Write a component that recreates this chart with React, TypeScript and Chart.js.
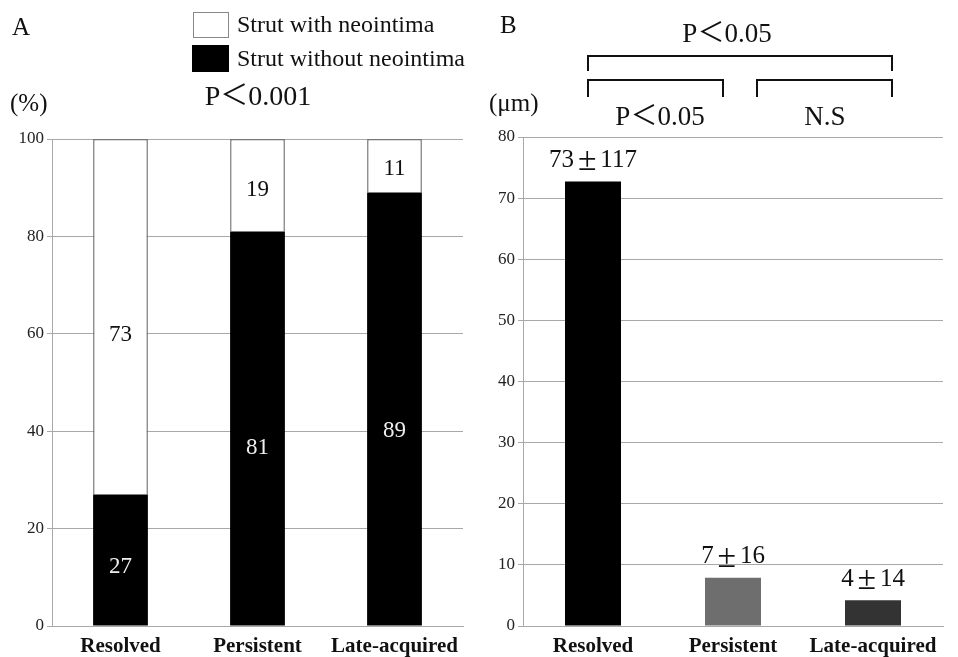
import React, { useEffect, useRef } from "react";
import { Chart, registerables } from "chart.js";
Chart.register(...registerables);

const categories = ["Resolved", "Persistent", "Late-acquired"];
const withoutNeointima = [27, 81, 89];
const withNeointima = [73, 19, 11];
const legendLabels = ["Strut with neointima", "Strut without neointima"];
const thicknessMean = [72.7, 7.9, 4.2];
const thicknessMeanLabels = ["73", "7", "4"];
const thicknessSdLabels = ["117", "16", "14"];
const thicknessColors = ["#000000", "#6e6e6e", "#333333"];
const pPanelA = "P＜0.001";
const pOverall = "P＜0.05";
const pResolvedPersistent = "P＜0.05";
const pPersistentLate = "N.S";

const SERIF = '"Liberation Serif", "Noto Sans CJK JP", serif';
const GRID = "#a8a8a8";
const TEXT = "#111111";

function yScale(max: number, step: number, width: number) {
  return {
    min: 0,
    max,
    ticks: { stepSize: step, color: "#222", font: { family: SERIF, size: 17 }, padding: 3 },
    grid: { color: GRID, lineWidth: 1, tickLength: 5, drawTicks: true },
    border: { display: true, color: GRID },
    afterFit: (s: any) => {
      s.width = width;
    },
  };
}

function xScale(stacked: boolean) {
  return {
    stacked,
    grid: { display: false, drawTicks: false },
    border: { display: true, color: GRID },
    ticks: { color: TEXT, font: { family: SERIF, size: 21, weight: "bold" }, padding: 8 },
    afterFit: (s: any) => {
      s.height = 31;
    },
  };
}

function drawPlusMinus(ctx: any, a: string, b: string, cx: number, cy: number, size: number) {
  ctx.font = `${size}px ${SERIF}`;
  const wa = ctx.measureText(a).width;
  const wb = ctx.measureText(b).width;
  const slot = size * 1.05;
  const total = wa + slot + wb;
  const left = cx - total / 2;
  ctx.textAlign = "left";
  ctx.fillText(a, left, cy);
  ctx.fillText(b, left + wa + slot, cy);
  ctx.font = `${size * 1.35}px ${SERIF}`;
  ctx.textAlign = "center";
  ctx.fillText("±", left + wa + slot / 2, cy + 1);
}

const annoA = {
  id: "annoA",
  afterDraw(chart: any) {
    const ctx = chart.ctx;
    ctx.save();
    ctx.textBaseline = "middle";
    ctx.fillStyle = TEXT;
    ctx.font = `25px ${SERIF}`;
    ctx.textAlign = "left";
    ctx.fillText("A", 12, 28);
    // legend
    ctx.fillStyle = "#fff";
    ctx.strokeStyle = "#888";
    ctx.lineWidth = 1;
    ctx.fillRect(193, 12, 35, 25);
    ctx.strokeRect(193.5, 12.5, 35, 25);
    ctx.fillStyle = "#000";
    ctx.fillRect(192, 45, 37, 27);
    ctx.fillStyle = TEXT;
    ctx.font = `24px ${SERIF}`;
    ctx.fillText(legendLabels[0], 237, 26);
    ctx.fillText(legendLabels[1], 237, 60);
    ctx.font = `25px ${SERIF}`;
    ctx.fillText("(%)", 10, 104);
    ctx.font = `28px ${SERIF}`;
    ctx.textAlign = "center";
    ctx.fillText(pPanelA, 258, 98);
    // data labels
    ctx.font = `23px ${SERIF}`;
    chart.data.datasets.forEach((ds: any, di: number) => {
      const meta = chart.getDatasetMeta(di);
      meta.data.forEach((bar: any, i: number) => {
        const p = bar.getProps(["x", "y", "base"], true);
        const ly = p.base + (p.y - p.base) * 0.45;
        ctx.fillStyle = di === 0 ? "#eeeeee" : TEXT;
        ctx.fillText(String(ds.data[i]), p.x, ly);
      });
    });
    ctx.restore();
  },
};

const annoB = {
  id: "annoB",
  afterDraw(chart: any) {
    const ctx = chart.ctx;
    ctx.save();
    ctx.textBaseline = "middle";
    ctx.fillStyle = TEXT;
    ctx.font = `25px ${SERIF}`;
    ctx.textAlign = "left";
    ctx.fillText("B", 20, 26);
    ctx.fillText("(μm)", 9, 104);
    ctx.textAlign = "center";
    ctx.font = `27px ${SERIF}`;
    ctx.fillText(pOverall, 247, 35);
    ctx.fillText(pResolvedPersistent, 180, 118);
    ctx.fillText(pPersistentLate, 345, 118);
    // brackets
    ctx.strokeStyle = "#111";
    ctx.lineWidth = 2;
    const bracket = (x1: number, x2: number, top: number, bottom: number) => {
      ctx.beginPath();
      ctx.moveTo(x1, bottom);
      ctx.lineTo(x1, top);
      ctx.lineTo(x2, top);
      ctx.lineTo(x2, bottom);
      ctx.stroke();
    };
    bracket(108, 412, 56, 71);
    bracket(108, 243, 80, 97);
    bracket(277, 412, 80, 97);
    // value labels
    const meta = chart.getDatasetMeta(0);
    meta.data.forEach((bar: any, i: number) => {
      const p = bar.getProps(["x", "y"], true);
      drawPlusMinus(ctx, thicknessMeanLabels[i], thicknessSdLabels[i], p.x, p.y - 21, 25);
    });
    ctx.restore();
  },
};

export default function App() {
  const refA = useRef<HTMLCanvasElement>(null);
  const refB = useRef<HTMLCanvasElement>(null);

  useEffect(() => {
    const a = new Chart(refA.current!, {
      type: "bar",
      data: {
        labels: categories,
        datasets: [
          {
            label: legendLabels[1],
            data: withoutNeointima,
            backgroundColor: "#000",
            borderWidth: 0,
            categoryPercentage: 1,
            barPercentage: 0.4,
          },
          {
            label: legendLabels[0],
            data: withNeointima,
            backgroundColor: "#fff",
            borderColor: "#777",
            borderWidth: 1.5,
            categoryPercentage: 1,
            barPercentage: 0.4,
          },
        ],
      },
      options: {
        responsive: false,
        animation: false,
        layout: { padding: { left: 0, right: 12, top: 139, bottom: 0 } },
        plugins: { legend: { display: false }, tooltip: { enabled: false } },
        scales: {
          x: xScale(true),
          y: { ...yScale(100, 20, 52), stacked: true },
        },
      } as any,
      plugins: [annoA],
    });
    const b = new Chart(refB.current!, {
      type: "bar",
      data: {
        labels: categories,
        datasets: [
          {
            label: "Neointima thickness",
            data: thicknessMean,
            backgroundColor: thicknessColors,
            borderWidth: 0,
            categoryPercentage: 1,
            barPercentage: 0.4,
          },
        ],
      },
      options: {
        responsive: false,
        animation: false,
        layout: { padding: { left: 0, right: 15, top: 137, bottom: 0 } },
        plugins: { legend: { display: false }, tooltip: { enabled: false } },
        scales: {
          x: xScale(false),
          y: yScale(80, 10, 43),
        },
      } as any,
      plugins: [annoB],
    });
    return () => {
      a.destroy();
      b.destroy();
    };
  }, []);

  return (
    <div style={{ position: "absolute", left: 0, top: 0, width: 958, height: 657, background: "#fff" }}>
      <canvas ref={refA} width={475} height={657} style={{ position: "absolute", left: 0, top: 0 }} />
      <canvas ref={refB} width={478} height={657} style={{ position: "absolute", left: 480, top: 0 }} />
    </div>
  );
}
